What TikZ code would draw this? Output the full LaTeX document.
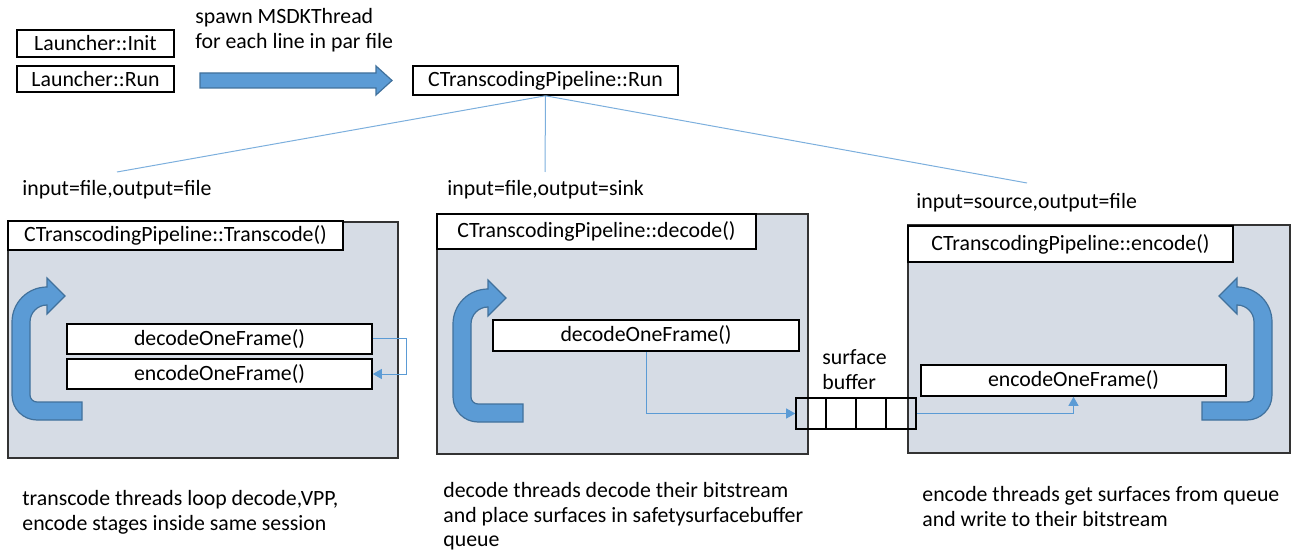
\documentclass[tikz,border=0pt]{standalone}
\usepackage{fontspec}
\setmainfont{Carlito}
\usetikzlibrary{arrows.meta}
\definecolor{greyfill}{HTML}{D6DCE5}
\definecolor{loopblue}{HTML}{5B9BD5}
\definecolor{loopedge}{HTML}{41719C}
\definecolor{connblue}{HTML}{5B9BD5}
\begin{document}
\begin{tikzpicture}[x=0.5pt,y=-0.5pt,
  every node/.style={font=\fontsize{10.9}{12.4}\selectfont},
  wbox/.style={draw=black,line width=0.8pt,fill=white,inner sep=0pt},
  gbox/.style={draw=black!80,line width=0.8pt,fill=greyfill,inner sep=0pt},
  cell/.style={draw=black,line width=0.8pt,inner sep=0pt,minimum width=15pt,minimum height=15.5pt},
  lbl/.style={inner sep=0pt,anchor=west,align=left},
  conn/.style={draw=connblue,line width=0.5pt,-{Triangle[length=4.5pt,width=5pt]}},
  topline/.style={draw=connblue!80,line width=0.5pt},
  bigarrow/.style={fill=loopblue,draw=loopedge,line width=0.6pt},
  uturn/.pic={
    \path[bigarrow] (70,-18) -- (25,-18)
      .. controls (21.13,-18) and (18,-21.13) .. (18,-25)
      -- (18,-98)
      .. controls (18,-107.39) and (25.61,-115) .. (35,-115)
      -- (35,-106) -- (53,-124) -- (35,-142) -- (35,-133)
      .. controls (15.67,-133) and (0,-117.33) .. (0,-98)
      -- (0,-25)
      .. controls (0,-11.2) and (11.2,0) .. (25,0)
      -- (70,0) -- cycle;
  }]
\useasboundingbox (0,0) rectangle (1294,555);

% top row
\node[wbox,minimum width=78.5pt,minimum height=13.5pt] (init) at (95.5,43.5) {Launcher::Init};
\node[wbox,minimum width=78.5pt,minimum height=13pt] (run) at (95.5,79) {Launcher::Run};
\node[lbl] (spawn) at (195,30) {spawn MSDKThread\\for each line in par file};
\node[wbox,minimum width=132.5pt,minimum height=14.5pt] (ctrun) at (545.5,80.5) {CTranscodingPipeline::Run};
\path[bigarrow] (200,73) -- (376,73) -- (376,66) -- (392,80.5) -- (376,95) -- (376,88) -- (200,88) -- cycle;

% mode labels
\node[lbl] (m1) at (22,190) {input=file,output=file};
\node[lbl] (m2) at (447,190) {input=file,output=sink};
\node[lbl] (m3) at (916,203) {input=source,output=file};
\coordinate (e1) at (117,172);
\coordinate (e2) at (545,172);
\coordinate (e3) at (1027,183);
\draw[topline] (ctrun.south) -- (e1);
\draw[topline] (ctrun.south) -- (e2);
\draw[topline] (ctrun.south) -- (e3);

% box 1: transcode
\node[gbox,minimum width=195pt,minimum height=118pt] (box1) at (203,340) {};
\node[wbox,minimum width=167.5pt,minimum height=14.5pt] (t1) at (175.5,235.5) {CTranscodingPipeline::Transcode()};
\node[wbox,minimum width=152.5pt,minimum height=15pt] (dec1) at (219.5,339) {decodeOneFrame()};
\node[wbox,minimum width=152.5pt,minimum height=15pt] (enc1) at (219.5,374) {encodeOneFrame()};
\draw[conn] (dec1.east) -- ++(17pt,0) |- (enc1.east);
\pic at (12,420) {uturn};

% box 2: decode
\node[gbox,minimum width=185.5pt,minimum height=120pt] (box2) at (622.5,334) {};
\node[wbox,minimum width=159.5pt,minimum height=17.5pt] (t2) at (596.5,231.5) {CTranscodingPipeline::decode()};
\node[wbox,minimum width=153pt,minimum height=15.5pt] (dec2) at (646,335.5) {decodeOneFrame()};
\pic at (453,422) {uturn};

% box 3: encode
\node[gbox,minimum width=191pt,minimum height=114pt] (box3) at (1099,339) {};
\node[wbox,minimum width=162.5pt,minimum height=18pt] (t3) at (1070.5,244) {CTranscodingPipeline::encode()};
\node[wbox,minimum width=152.5pt,minimum height=15.5pt] (enc3) at (1073.5,380.5) {encodeOneFrame()};
\pic[xscale=-1] at (1272,420) {uturn};

% surface buffer
\node[cell] (b1) at (811,413.5) {};
\node[cell] (b2) at (841,413.5) {};
\node[cell] (b3) at (871,413.5) {};
\node[cell] (b4) at (901,413.5) {};
\node[lbl] (sb) at (822,370) {surface\\buffer};
\draw[conn] (dec2.south) |- (b1.west);
\draw[conn] (b4.east) -| (enc3.south);

% bottom descriptions
\node[lbl,font=\fontsize{10.9}{12.5}\selectfont] (d1) at (22,512.5) {transcode threads loop decode,VPP,\\encode stages inside same session};
\node[lbl,font=\fontsize{10.9}{12.3}\selectfont] (d2) at (443,516.5) {decode threads decode their bitstream\\and place surfaces in safetysurfacebuffer\\queue};
\node[lbl,font=\fontsize{10.9}{12.5}\selectfont] (d3) at (922,506.5) {encode threads get surfaces from queue\\and write to their bitstream};
\end{tikzpicture}
\end{document}
